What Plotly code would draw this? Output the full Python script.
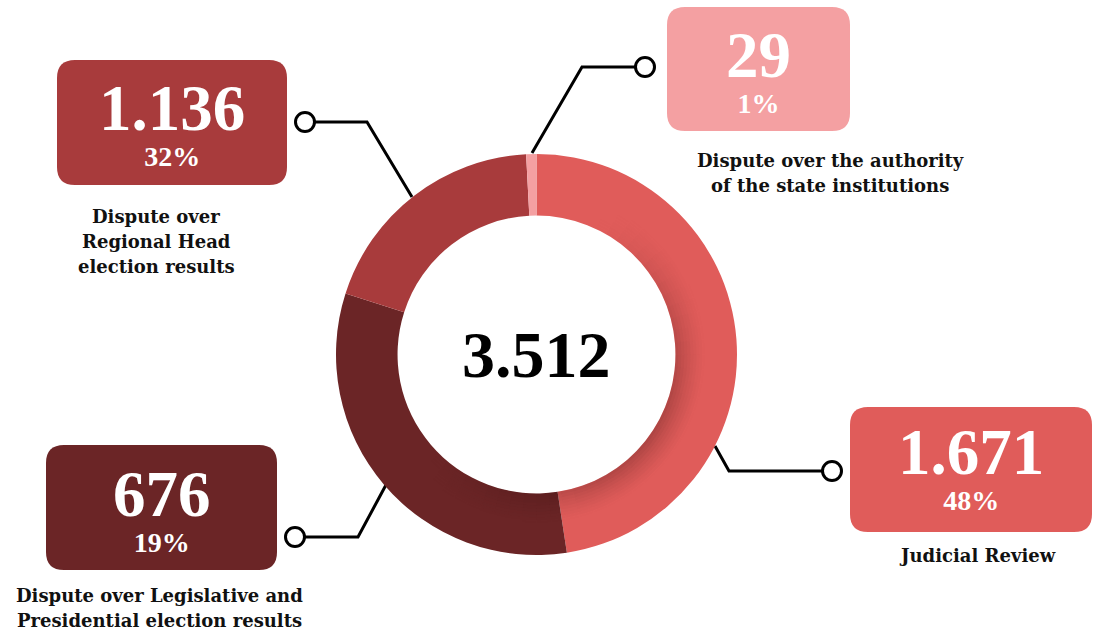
import math
import plotly.graph_objects as go

# ---------------- data ----------------
categories = [
    "Judicial Review",
    "Dispute over Regional Head election results",
    "Dispute over Legislative and Presidential election results",
    "Dispute over the authority of the state institutions",
]
values = [1671, 1136, 676, 29]
box_colors = ["#E05C5A", "#A83B3C", "#6B2526", "#F4A0A2"]

# slices as drawn (clockwise from 12 o'clock)
slice_values = [1671, 1136, 676, 29]
slice_colors = ["#E05C5A", "#6B2526", "#A83B3C", "#F4A0A2"]

label_lines = [
    ["Judicial Review"],
    ["Dispute over", "Regional Head", "election results"],
    ["Dispute over Legislative and", "Presidential election results"],
    ["Dispute over the authority", "of the state institutions"],
]

total = sum(values)


def fmt(v):
    return f"{v:,}".replace(",", ".")


# ---------------- layout constants (pixels) ----------------
W, H = 1094, 631
cx, cy, R = 536.5, 354.5, 200.5
hole = 0.693
r_in = R * hole

# box: x0, y0, x1, y1 ; number baseline y ; label centre x, first-line y
boxes = [
    dict(x0=850, y0=407, x1=1092, y1=532, nb=474, lx=977, ly=555),
    dict(x0=57, y0=60, x1=287, y1=185, nb=130, lx=156, ly=216),
    dict(x0=46, y0=445, x1=277, y1=570, nb=516, lx=159, ly=595),
    dict(x0=667, y0=7, x1=850, y1=131, nb=77, lx=830, ly=160),
]
line_gap = 25
connectors = [
    dict(xs=[832, 729, 715], ys=[471, 471, 446]),
    dict(xs=[305, 367, 412], ys=[122, 122, 197]),
    dict(xs=[295, 358, 387], ys=[537, 537, 483]),
    dict(xs=[645, 582, 532], ys=[67, 67, 153]),
]

# inner-shadow styling (decorative gradient on the ring, non-overlapping cells)
shadow_rings = 10
shadow_depth = 30       # px from the inner edge
shadow_steps = 72       # angular cells
shadow_halfwidth = 100  # degrees
shadow_center = 125     # degrees clockwise from 12 o'clock
shadow_alpha = 0.26     # darkness at the strongest point


def rounded_rect(x0, y0, x1, y1, r):
    return (
        f"M{x0+r},{y0} L{x1-r},{y0} Q{x1},{y0} {x1},{y0+r} "
        f"L{x1},{y1-r} Q{x1},{y1} {x1-r},{y1} L{x0+r},{y1} "
        f"Q{x0},{y1} {x0},{y1-r} L{x0},{y0+r} Q{x0},{y0} {x0+r},{y0} Z"
    )


def dom(r):
    return dict(x=[(cx - r) / W, (cx + r) / W],
                y=[(H - cy - r) / H, (H - cy + r) / H])


fig = go.Figure()

# connectors (drawn below the pie)
for c in connectors:
    fig.add_trace(go.Scatter(
        x=c["xs"], y=c["ys"], mode="lines",
        line=dict(color="#000000", width=3),
        hoverinfo="skip", showlegend=False,
    ))
fig.add_trace(go.Scatter(
    x=[c["xs"][0] for c in connectors], y=[c["ys"][0] for c in connectors],
    mode="markers",
    marker=dict(symbol="circle", size=19, color="#FFFFFF",
                line=dict(color="#000000", width=3)),
    hoverinfo="skip", showlegend=False,
))

fig.add_trace(go.Pie(
    values=slice_values,
    labels=categories,
    marker=dict(colors=slice_colors, line=dict(width=0)),
    hole=hole, sort=False, direction="clockwise", rotation=0,
    textinfo="none", showlegend=False, hoverinfo="skip",
    domain=dom(R),
))

# inner shadow: one translucent layer per cell (no stacking)
step = 360 / shadow_steps
ang_w = []
for j in range(shadow_steps):
    th = (j + 0.5) * step
    d = ((th - shadow_center + 180) % 360) - 180
    ang_w.append(max(0.0, math.cos(math.radians(d * 90 / shadow_halfwidth))) ** 1.3)
dr = shadow_depth / shadow_rings
for k in range(shadow_rings):
    ri = r_in + k * dr
    ro = ri + dr
    t = (k + 0.5) / shadow_rings
    rad_w = (1 - t) ** 1.4
    fig.add_trace(go.Pie(
        values=[1] * shadow_steps,
        labels=[f"s{k}_{j}" for j in range(shadow_steps)],
        marker=dict(colors=[f"rgba(25,0,0,{shadow_alpha * rad_w * w:.4f})" for w in ang_w],
                    line=dict(width=0)),
        hole=ri / ro, sort=False, direction="clockwise", rotation=0,
        textinfo="none", showlegend=False, hoverinfo="skip",
        domain=dom(ro),
    ))

shapes = []
annotations = []
num_font = "Liberation Serif"
lab_font = "DejaVu Serif"
num_size, pct_size = 65, 28
for i, b in enumerate(boxes):
    shapes.append(dict(
        type="path", xref="x", yref="y",
        path=rounded_rect(b["x0"], b["y0"], b["x1"], b["y1"], 18),
        fillcolor=box_colors[i], line=dict(width=0), layer="below",
    ))
    mx = (b["x0"] + b["x1"]) / 2
    pct = round(values[i] / total * 100)
    annotations.append(dict(
        x=mx, y=b["nb"] - 8, xref="x", yref="y", showarrow=False,
        text=(f"<b><span style='font-size:{num_size}px'>{fmt(values[i])}</span>"
              f"<br>{pct}%</b>"),
        font=dict(family=num_font, size=pct_size, color="#FFFFFF"),
    ))
    for k, ln in enumerate(label_lines[i]):
        annotations.append(dict(
            x=b["lx"], y=b["ly"] + k * line_gap, xref="x", yref="y",
            showarrow=False, text=f"<b>{ln}</b>",
            font=dict(family=lab_font, size=18, color="#111111"),
        ))

annotations.append(dict(
    x=cx, y=cy, xref="x", yref="y", showarrow=False,
    text=f"<b>{fmt(total)}</b>",
    font=dict(family=num_font, size=66, color="#000000"),
))

fig.update_layout(
    width=W, height=H,
    margin=dict(l=0, r=0, t=0, b=0),
    paper_bgcolor="#FFFFFF", plot_bgcolor="rgba(0,0,0,0)",
    xaxis=dict(range=[0, W], visible=False, fixedrange=True),
    yaxis=dict(range=[H, 0], visible=False, fixedrange=True),
    shapes=shapes, annotations=annotations,
)

fig.write_html(
    "out.html",
    config={"displayModeBar": False},
    post_script="document.body.style.margin='0';document.body.style.overflow='hidden';",
)
